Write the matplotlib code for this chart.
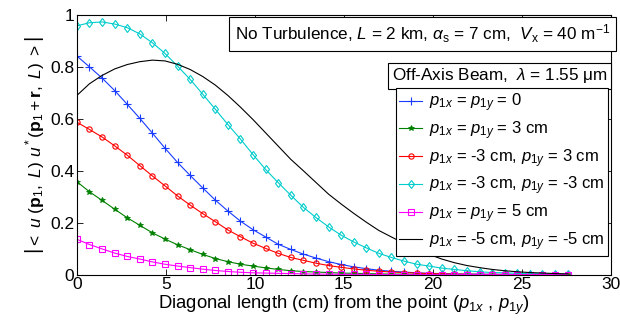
import numpy as np
import matplotlib
matplotlib.use("Agg")
import matplotlib.pyplot as plt

plt.rcParams["font.family"] = ["Liberation Sans", "DejaVu Sans"]
plt.rcParams["mathtext.fontset"] = "custom"
plt.rcParams["mathtext.rm"] = "Liberation Sans"
plt.rcParams["mathtext.it"] = "Liberation Sans:italic"
plt.rcParams["mathtext.bf"] = "Liberation Sans:bold"

# diagonal sample positions (cm): 0.5 cm steps along x and y
step = 0.5 * np.sqrt(2)
n_pts = 40
diag = np.arange(n_pts) * step

# |<u(p1,L) u*(p1+r,L)>| for each beam offset
coh_0_0 = [0.842, 0.800, 0.757, 0.709, 0.656, 0.602, 0.545, 0.487, 0.432, 0.382,
           0.334, 0.287, 0.245, 0.206, 0.173, 0.145, 0.117, 0.097, 0.079, 0.064,
           0.050, 0.039, 0.030, 0.023, 0.017, 0.013, 0.010, 0.007, 0.005, 0.004,
           0.003, 0.002, 0.002, 0.001, 0.001, 0.001, 0.001, 0.000, 0.000, 0.000]
coh_3_3 = [0.358, 0.319, 0.286, 0.252, 0.219, 0.190, 0.161, 0.137, 0.115, 0.096,
           0.078, 0.062, 0.050, 0.040, 0.033, 0.026, 0.020, 0.015, 0.012, 0.010,
           0.008, 0.006, 0.005, 0.004, 0.003, 0.002, 0.002, 0.001, 0.001, 0.001,
           0.000, 0.000, 0.000, 0.000, 0.000, 0.000, 0.000, 0.000, 0.000, 0.000]
coh_m3_3 = [0.587, 0.559, 0.530, 0.496, 0.460, 0.420, 0.380, 0.342, 0.303, 0.268,
            0.235, 0.204, 0.172, 0.146, 0.121, 0.101, 0.082, 0.066, 0.055, 0.044,
            0.035, 0.028, 0.022, 0.017, 0.013, 0.010, 0.008, 0.006, 0.004, 0.003,
            0.002, 0.002, 0.001, 0.001, 0.001, 0.000, 0.000, 0.000, 0.000, 0.000]
coh_m3_m3 = [0.958, 0.970, 0.973, 0.965, 0.951, 0.927, 0.893, 0.852, 0.803, 0.752,
             0.695, 0.637, 0.578, 0.522, 0.462, 0.405, 0.354, 0.306, 0.259, 0.220,
             0.184, 0.152, 0.126, 0.103, 0.082, 0.066, 0.052, 0.040, 0.033, 0.025,
             0.020, 0.015, 0.011, 0.008, 0.007, 0.005, 0.004, 0.003, 0.002, 0.002]
coh_5_5 = [0.136, 0.116, 0.099, 0.083, 0.070, 0.060, 0.049, 0.040, 0.033, 0.027,
           0.021, 0.016, 0.012, 0.009, 0.007, 0.006, 0.005, 0.004, 0.003, 0.002,
           0.002, 0.001, 0.001, 0.001, 0.000, 0.000, 0.000, 0.000, 0.000, 0.000,
           0.000, 0.000, 0.000, 0.000, 0.000, 0.000, 0.000, 0.000, 0.000, 0.000]
coh_m5_m5 = [0.690, 0.735, 0.767, 0.792, 0.809, 0.820, 0.826, 0.823, 0.810, 0.790,
             0.763, 0.730, 0.690, 0.645, 0.597, 0.546, 0.495, 0.444, 0.400, 0.355,
             0.310, 0.272, 0.236, 0.202, 0.170, 0.145, 0.120, 0.097, 0.078, 0.060,
             0.046, 0.035, 0.027, 0.020, 0.015, 0.011, 0.008, 0.006, 0.004, 0.003]

labels = [
    r"$p_{1x}$ = $p_{1y}$ = 0",
    r"$p_{1x}$ = $p_{1y}$ = 3 cm",
    r"$p_{1x}$ = -3 cm, $p_{1y}$ = 3 cm",
    r"$p_{1x}$ = -3 cm, $p_{1y}$ = -3 cm",
    r"$p_{1x}$ = $p_{1y}$ = 5 cm",
    r"$p_{1x}$ = -5 cm, $p_{1y}$ = -5 cm",
]

fig = plt.figure(figsize=(6.2, 3.25), dpi=100)
ax = fig.add_axes([0.124, 0.155, 0.861, 0.799])

ms = 3.8
ax.plot(diag, coh_0_0, color="#1a3cff", marker="+", ms=ms + 1.5, lw=0.8, mew=0.8, label=labels[0])
ax.plot(diag, coh_3_3, color="#008000", marker="*", ms=ms + 0.5, lw=0.8, mew=0.6, label=labels[1])
ax.plot(diag, coh_m3_3, color="#ff0000", marker="o", ms=ms, lw=0.8, mew=0.8, mfc="none", label=labels[2])
ax.plot(diag, coh_m3_m3, color="#00cccc", marker="d", ms=ms + 0.6, lw=0.8, mew=0.8, mfc="none", label=labels[3])
ax.plot(diag, coh_5_5, color="#ff00ff", marker="s", ms=ms, lw=0.8, mew=0.8, mfc="none", label=labels[4])
ax.plot(diag, coh_m5_m5, color="black", lw=0.8, label=labels[5])

ax.set_xlim(0, 30)
ax.set_ylim(0, 1)
ax.set_xticks(np.arange(0, 31, 5))
ax.set_yticks([0, 0.2, 0.4, 0.6, 0.8, 1])
ax.set_yticklabels(["0", "0.2", "0.4", "0.6", "0.8", "1"])
ax.tick_params(direction="in", top=True, right=True, length=4.5, width=0.6, labelsize=12.5, pad=2)
for sp in ax.spines.values():
    sp.set_linewidth(0.8)

ax.set_xlabel(r"Diagonal length (cm) from the point ($p_{1x}$ , $p_{1y}$)", fontsize=13.3, labelpad=1)
ax.set_ylabel(r"$\left|<\ u\ (\mathbf{p}_1,\ L)\ u^*(\mathbf{p}_1 + \mathbf{r},\ L)\ >\right|$",
              fontsize=12.5, labelpad=3)

ax.text(0.9985, 0.97, r"No Turbulence, $L$ = 2 km, $\alpha_{\rm s}$ = 7 cm,  $V_{\rm x}$ = 40 m$^{-1}$",
        transform=ax.transAxes, ha="right", va="top", fontsize=12.3,
        bbox=dict(boxstyle="square,pad=0.35", fc="white", ec="black", lw=0.8))
ax.text(0.994, 0.802, r"Off-Axis Beam,  $\lambda$ = 1.55 $\mathrm{\mu}$m",
        transform=ax.transAxes, ha="right", va="top", fontsize=12.3,
        bbox=dict(boxstyle="square,pad=0.2", fc="white", ec="black", lw=0.8))

leg = ax.legend(loc="upper right", bbox_to_anchor=(0.9955, 0.718), fontsize=12,
                frameon=True, fancybox=False, edgecolor="black", framealpha=1,
                borderpad=0.2, labelspacing=0.31, handlelength=1.35, handletextpad=0.45,
                borderaxespad=0)
leg.get_frame().set_linewidth(0.8)

fig.savefig("out.png", dpi=100)
